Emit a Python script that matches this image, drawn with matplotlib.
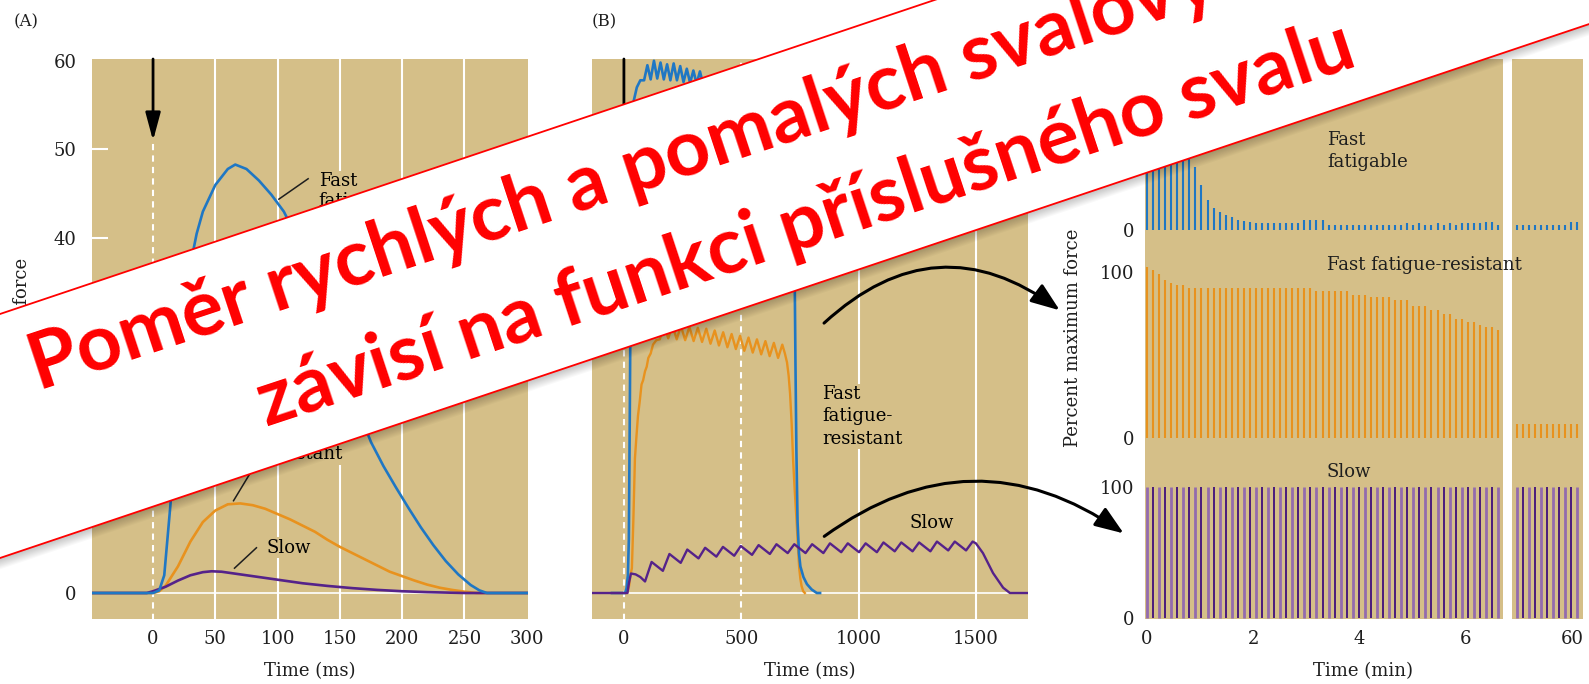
import numpy as np
import matplotlib
matplotlib.use("Agg")
import matplotlib.pyplot as plt
from matplotlib.patches import Polygon, FancyArrowPatch

W, H, DPI = 1589, 684, 100
TAN = "#D5BF88"; BLUE = "#1F77C4"; ORANGE = "#E8921E"
PURPLE = "#55228A"; PURPLE_DK = "#4A1B7C"; PURPLE_LT = "#936BAE"
INK = "#1E1E1E"; RED = "#FF0000"
plt.rcParams.update({"font.family": "DejaVu Serif", "font.size": 13})

# ---- (A) single twitch: force vs time (ms) ----
a_ticks_x = [0, 50, 100, 150, 200, 250, 300]
a_ticks_y = [0, 10, 20, 30, 40, 50, 60]
a_fast_t = [-49, 0, 5, 9, 14, 20, 25, 30, 35, 40, 50, 60, 66, 75, 85, 95, 105, 115, 125, 135,
            145, 155, 165, 175, 185, 195, 205, 215, 225, 235, 245, 255, 262, 268, 301]
a_fast_f = [0, 0, 0.3, 2, 10, 22, 31, 37, 40.5, 43, 46, 47.8, 48.3, 47.8, 46.5, 44.9, 43, 40.2, 36.7, 32.8,
            28.6, 24.5, 20.5, 17, 14.3, 11.9, 9.6, 7.4, 5.4, 3.6, 2.1, 0.9, 0.3, 0, 0]
a_ffr_t = [-49, 0, 5, 10, 20, 30, 40, 50, 60, 70, 80, 90, 100, 110, 120, 130, 140, 150, 160,
           170, 180, 190, 200, 210, 220, 230, 240, 250, 260, 301]
a_ffr_f = [0, 0, 0.2, 0.8, 3, 5.8, 8, 9.3, 10, 10.1, 9.9, 9.5, 8.9, 8.3, 7.6, 6.9, 6.0, 5.2, 4.5,
           3.8, 3.1, 2.4, 1.9, 1.4, 0.95, 0.6, 0.35, 0.15, 0, 0]
a_slow_t = [-49, -5, 0, 10, 20, 30, 40, 47, 55, 65, 80, 100, 120, 140, 160, 180, 200, 220, 250, 301]
a_slow_f = [0, 0, 0.2, 0.7, 1.4, 2.0, 2.35, 2.45, 2.4, 2.2, 1.9, 1.5, 1.1, 0.8, 0.55, 0.35, 0.2, 0.1, 0, 0]

# ---- (B) repetitive stimulation: force vs time (ms) ----
b_ticks_x = [0, 500, 1000, 1500]
b_fast_t = [-51, 5, 11, 17, 21, 25, 29, 34, 42, 55, 70,
            86, 100, 114, 128, 142, 156, 170, 184, 198, 212, 226, 240, 254, 268, 282, 296, 310, 324, 338,
            400, 500, 600, 700,
            722, 727, 731, 735, 740, 746, 752, 765, 780, 800, 822, 836]
b_fast_f = [0, 0, 0.5, 2, 6, 20, 36, 50, 55.5, 57, 57.8,
            57.8, 59.5, 57.9, 60, 58, 59.8, 57.9, 59.6, 57.8, 59.7, 57.8, 59.4, 57.6, 59.1, 57.5, 58.9, 57.4, 58.8, 57.3,
            57.5, 57.8, 57.5, 57,
            52, 38, 26, 16, 8, 4.5, 3, 1.8, 1, 0.4, 0, 0]
b_ffr_t = [-51, 14, 22, 28, 34, 40, 47, 53, 60, 67, 75, 82, 90, 97, 104, 114, 124, 138,
           153, 171, 189, 207, 225, 243, 261, 279, 297, 315, 333, 351, 369, 387, 405, 423,
           441, 459, 477, 495, 513, 531, 549, 567, 585, 603, 621, 639, 657, 675,
           686, 695, 702, 708, 715, 721, 728, 736, 742, 747, 752, 757, 764, 771]
b_ffr_f = [0, 0, 0.8, 2, 2.8, 8, 15.2, 17.5, 20, 21.5, 23.5, 24, 25, 25.5, 26.5, 27, 28, 28.5,
           28.6, 30.2, 28.7, 30.2, 28.6, 30.1, 28.5, 30.0, 28.4, 29.9, 28.3, 29.8, 28.1, 29.6, 27.9, 29.4,
           27.7, 29.2, 27.5, 29.0, 27.3, 28.8, 27.1, 28.6, 26.9, 28.4, 26.7, 28.2, 26.5, 28.0,
           27, 26, 24.5, 22.5, 19, 15, 11.5, 8, 5, 2.8, 1.6, 0.8, 0.2, 0]
b_slow_t = [-136, 15, 22, 30, 50, 70,
            90, 118, 142, 166, 194, 218, 242, 270, 294, 318, 346, 370, 394, 422, 446, 470, 498, 522,
            546, 574, 598, 622, 650, 674, 698, 726, 750, 774, 802, 826, 850, 878, 902, 926, 954, 978,
            1002, 1030, 1054, 1078, 1106, 1130, 1154, 1182, 1206, 1230, 1258, 1282, 1306, 1334, 1358,
            1382, 1410, 1434, 1458, 1486, 1500, 1530, 1573, 1616, 1645, 1722]
b_slow_f = [0, 0, 1.2, 2.2, 2.1, 1.8,
            1.3, 3.5, 3.0, 2.5, 4.4, 3.9, 3.4, 4.9, 4.4, 3.9, 5.1, 4.6, 4.1, 5.2, 4.7, 4.2, 5.3, 4.8,
            4.3, 5.4, 4.9, 4.4, 5.5, 5.0, 4.5, 5.5, 5.0, 4.5, 5.5, 5.0, 4.5, 5.6, 5.1, 4.6, 5.6, 5.1,
            4.6, 5.6, 5.1, 4.6, 5.7, 5.2, 4.7, 5.7, 5.2, 4.7, 5.7, 5.2, 4.7, 5.8, 5.3,
            4.8, 5.8, 5.3, 4.8, 5.8, 5.6, 4.5, 2.25, 0.6, 0, 0]

# ---- (C) fatigue test: percent max force per test stimulus ----
c_step = 0.1142                  # min between test stimuli
c_ticks_x = [0, 2, 4, 6]
c_right_start = 58.96
c_fast = [100, 99, 97, 95, 92, 86, 75, 45, 38, 27,
          18, 13, 11, 9, 8, 6, 5.5, 5, 4.5, 4,
          4, 4, 4, 4, 4, 4, 6, 6, 6, 6,
          3, 3, 3, 3, 3, 3, 3, 3, 3, 3,
          3, 3, 3, 4, 3, 4, 3, 3, 4, 3,
          4, 3, 4, 4, 4, 4, 5, 5, 3]
c_fast_r = [3, 3, 3, 3, 3, 3, 3, 3, 3, 5, 5]
c_ffr = [103, 101, 99, 95, 93.5, 92.5, 92, 90.5, 90.5, 90.5,
         90.5, 90.5, 90.5, 90.5, 90.5, 90.5, 90.5, 90.5, 90.5, 90.5,
         90.5, 90.5, 90.5, 90.5, 90.5, 90.5, 90.5, 90.5, 88.5, 88.5,
         88.5, 88.5, 88.5, 88.5, 86, 86, 86, 84.7, 84.7, 84.7,
         84.7, 83, 83, 83, 79.7, 79.7, 79.7, 77, 77, 75,
         75, 72, 72, 70, 70, 68, 67, 67, 65]
c_ffr_r = [8.5, 8.5, 8.5, 8.5, 8.5, 8.5, 8.5, 8.5, 8.5, 8.5, 8.5]
c_slow = [100, 100, 100, 100, 100, 100, 100, 100, 100, 100,
          100, 100, 100, 100, 100, 100, 100, 100, 100, 100,
          100, 100, 100, 100, 100, 100, 100, 100, 100, 100,
          100, 100, 100, 100, 100, 100, 100, 100, 100, 100,
          100, 100, 100, 100, 100, 100, 100, 100, 100, 100,
          100, 100, 100, 100, 100, 100, 100, 100, 100]
c_slow_r = [100, 100, 100, 100, 100, 100, 100, 100, 100, 100, 100]

banner_1 = "Poměr rychlých a pomalých svalových vláken"
banner_2 = "závisí na funkci příslušného svalu"

fig = plt.figure(figsize=(W / DPI, H / DPI), dpi=DPI)


def px_axes(l, t, r, b, **kw):
    return fig.add_axes([l / W, 1 - b / H, (r - l) / W, (b - t) / H], **kw)


def ptext(x, y, s, **kw):
    fig.text(x / W, 1 - y / H, s, color=INK, **kw)


def clean(ax):
    for s in ax.spines.values():
        s.set_visible(False)
    ax.tick_params(length=0, colors=INK, labelsize=13)


label_box = dict(facecolor=TAN, edgecolor="none", pad=1)
stim_arrow = dict(arrowstyle="-|>,head_length=1.3,head_width=0.35", color="black", lw=2,
                  shrinkA=0, shrinkB=0)

# ---------------- panel A ----------------
axA = px_axes(92, 59, 528, 619)
axA.set_facecolor(TAN); clean(axA)
axA.set_xlim(-49, 301); axA.set_ylim(-2.93, 60.2)
for x in a_ticks_x[1:-1]:
    axA.axvline(x, color="white", lw=1.5, zorder=1)
axA.plot([0, 0], [-3, 51], color="white", lw=1.5, ls=(0, (3, 2.5)), zorder=1)
axA.hlines(a_ticks_y[1:-1], -49, -36, color="white", lw=1.5, zorder=1)
axA.axhline(0, color="white", lw=1.2, zorder=1)
axA.annotate("", xy=(0, 51), xytext=(0, 60.2), arrowprops=stim_arrow, annotation_clip=False)
axA.plot(a_ffr_t, a_ffr_f, color=ORANGE, lw=1.9, zorder=3)
axA.plot(a_slow_t, a_slow_f, color=PURPLE, lw=1.9, zorder=3)
axA.plot(a_fast_t, a_fast_f, color=BLUE, lw=1.9, zorder=4)
axA.set_xticks(a_ticks_x); axA.set_yticks(a_ticks_y)
axA.tick_params(axis="y", pad=11); axA.tick_params(axis="x", pad=8)
axA.text(133, 45.3, "Fast\nfatigable", ha="left", va="center", linespacing=1.15, bbox=label_box, zorder=5)
axA.plot([101, 124.5], [44.4, 46.7], color=INK, lw=1.1, zorder=5)
axA.text(88, 17.9, "Fast\nfatigue-\nresistant", ha="left", va="center", linespacing=1.15, bbox=label_box, zorder=5)
axA.plot([64.6, 81.4], [10.4, 14.3], color=INK, lw=1.1, zorder=5)
axA.text(91, 5.1, "Slow", ha="left", va="center", bbox=label_box, zorder=5)
axA.plot([65.4, 83], [2.8, 5.1], color=INK, lw=1.1, zorder=5)
ptext(310, 671, "Time (ms)", ha="center", va="center", fontsize=13)
ptext(22, 258, "Relative force", rotation=90, ha="center", va="top", fontsize=13)
ptext(14, 22, "(A)", ha="left", va="center", fontsize=12)

# ---------------- panel B ----------------
axB = px_axes(592, 59, 1028, 619)
axB.set_facecolor(TAN); clean(axB)
axB.set_xlim(-136, 1722); axB.set_ylim(-2.93, 60.2)
axB.plot([0, 0], [-3, 51], color="white", lw=1.5, ls=(0, (3, 2.5)), zorder=1)
axB.axvline(500, color="white", lw=1.5, ls=(0, (3, 2.5)), zorder=1)
for x in b_ticks_x[2:]:
    axB.axvline(x, color="white", lw=1.5, zorder=1)
axB.axhline(0, color="white", lw=1.2, zorder=1)
axB.annotate("", xy=(0, 51), xytext=(0, 60.2), arrowprops=stim_arrow, annotation_clip=False)
axB.plot(b_ffr_t, b_ffr_f, color=ORANGE, lw=1.7, zorder=3)
axB.plot(b_fast_t, b_fast_f, color=BLUE, lw=1.9, zorder=4)
axB.plot(b_slow_t, b_slow_f, color=PURPLE, lw=1.7, zorder=5)
axB.set_xticks(b_ticks_x); axB.set_yticks([])
axB.tick_params(axis="x", pad=8)
axB.text(844, 19.9, "Fast\nfatigue-\nresistant", ha="left", va="center", linespacing=1.3, bbox=label_box, zorder=6)
axB.text(1219, 7.9, "Slow", ha="left", va="center", zorder=6)
ptext(810, 671, "Time (ms)", ha="center", va="center", fontsize=13)
ptext(592, 22, "(B)", ha="left", va="center", fontsize=12)

# ---------------- panel C ----------------
c_main_lim = (-0.038, 6.717)
c_right_lim = (58.868, 60.208)
for l, r in [(1145, 1503), (1512, 1583)]:
    bg = px_axes(l, 59, r, 619)
    bg.set_facecolor(TAN); clean(bg)
    bg.set_xticks([]); bg.set_yticks([])

t_main = np.arange(len(c_fast)) * c_step
t_right = c_right_start + np.arange(len(c_fast_r)) * c_step

strips = [(59, 230, (0, 103.0), c_fast, c_fast_r, BLUE),
          (250, 438, (0, 113.3), c_ffr, c_ffr_r, ORANGE),
          (470, 619, (-0.76, 113.0), c_slow, c_slow_r, None)]
for i, (top, bot, ylim, hm, hr, col) in enumerate(strips):
    for (l, r), tt, hh, xl in [((1145, 1503), t_main, hm, c_main_lim),
                               ((1512, 1583), t_right, hr, c_right_lim)]:
        ax = px_axes(l, top, r, bot)
        ax.patch.set_alpha(0); clean(ax)
        ax.set_xlim(xl); ax.set_ylim(ylim)
        if col is None:
            ax.vlines(tt[0::2], 0, hh[0::2], color=PURPLE_LT, lw=2.0)
            ax.vlines(tt[1::2], 0, hh[1::2], color=PURPLE_DK, lw=1.4)
        else:
            ax.vlines(tt, 0, hh, color=col, lw=1.5)
        if l == 1145:
            ax.set_yticks([0, 100]); ax.tick_params(axis="y", pad=8)
        else:
            ax.set_yticks([])
        if i == 2:
            ax.set_xticks(c_ticks_x if l == 1145 else [60]); ax.tick_params(axis="x", pad=8)
        else:
            ax.set_xticks([])

ptext(1327, 151, "Fast\nfatigable", ha="left", va="center", linespacing=1.3, fontsize=13)
ptext(1327, 265, "Fast fatigue-resistant", ha="left", va="center", fontsize=13)
ptext(1327, 472, "Slow", ha="left", va="center", fontsize=13)
ptext(1073, 338, "Percent maximum force", rotation=90, ha="center", va="center", fontsize=13)
ptext(1363, 671, "Time (min)", ha="center", va="center", fontsize=13)

# ---------------- overlay: curved arrows + banner ----------------
ov = fig.add_axes([0, 0, 1, 1], zorder=20)
ov.set_xlim(0, W); ov.set_ylim(H, 0); ov.axis("off")
for a, b, rad in [((822, 325), (1062, 312), -0.42), ((822, 538), (1126, 535), -0.36)]:
    ov.add_patch(FancyArrowPatch(a, b, connectionstyle=f"arc3,rad={rad}",
                                 arrowstyle="-|>,head_length=0.8,head_width=0.3",
                                 mutation_scale=22, lw=2.2, color="black", zorder=1))

m = 0.336
bx = np.array([-80, 1680])
up, lo = 314 - m * bx, 558 - m * bx
band = [(bx[0], up[0]), (bx[1], up[1]), (bx[1], lo[1]), (bx[0], lo[0])]
for off in range(1, 11):
    ov.add_patch(Polygon([(x + off * 0.4, y + off) for x, y in band], closed=True,
                         facecolor="black", edgecolor="none", alpha=0.022, zorder=2))
ov.add_patch(Polygon(band, closed=True, facecolor="white", edgecolor="none", zorder=3))
ov.plot(bx, up, color=RED, lw=1.3, zorder=4)
ov.plot(bx, lo, color=RED, lw=1.3, zorder=4)
bfont = dict(family=["Lato", "DejaVu Sans"], fontweight="bold", color=RED, fontsize=56.5,
             rotation=18.3, rotation_mode="anchor", ha="center", va="baseline", zorder=5)
ov.text(786, 143, banner_1, **bfont)
ov.text(813, 246, banner_2, **bfont)

fig.savefig("out.png", dpi=DPI)
